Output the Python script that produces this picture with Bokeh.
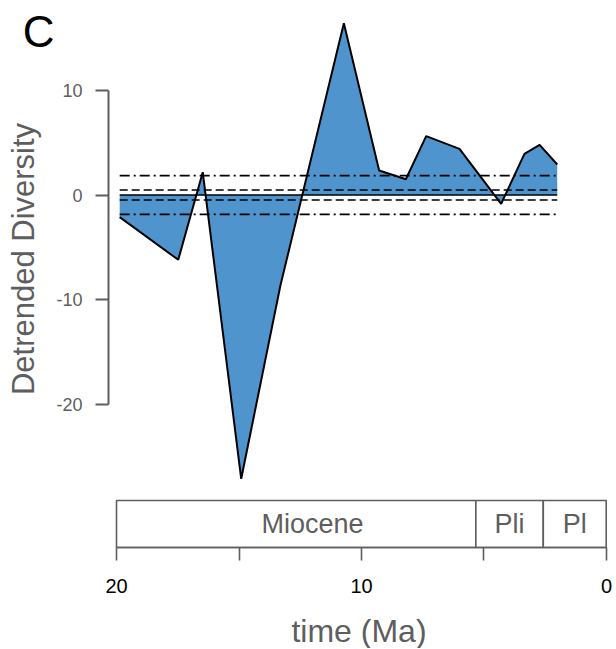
from bokeh.plotting import figure
from bokeh.models import Range1d, Label, FixedTicker, LinearAxis
from bokeh.core.properties import value
from bokeh.embed import file_html
from bokeh.resources import INLINE

# ---- data ----
ages = [19.87, 17.48, 16.48, 14.91, 13.31, 10.72, 9.28, 8.19, 7.36, 6.00, 4.30, 3.35, 2.73, 2.01]
diversity = [-2.12, -6.20, 2.18, -27.16, -8.66, 16.44, 2.34, 1.51, 5.63, 4.42, -0.84, 3.94, 4.80, 2.92]
zero_level = [0.0]
inner_band = [0.48, -0.48]
outer_band = [1.85, -1.85]

epoch_names = ["Miocene", "Pli", "Pl"]
epoch_start = [23.03, 5.333, 2.58]
epoch_end = [5.333, 2.58, 0.0117]

y_ticks = [10, 0, -10, -20]
y_tick_labels = ["10", "0", "-10", "-20"]
x_ticks = [20, 15, 10, 5, 0]
x_tick_labels = ["20", "", "10", "", "0"]

# ---- layout constants ----
XMAX = 20.0
FONT = "Liberation Sans"
GREY = "#5e5e5e"
FILL = "#4F94CD"
epoch_label_x = [12.0, 3.96, 1.30]

x_start, x_end = 24.735, -0.245
y_start, y_end = -43.397, 17.847
box_bottom = -33.732
box_top = -29.23
yaxis_at = 20.3265

p = figure(frame_width=612, frame_height=640,
           x_range=Range1d(x_start, x_end), y_range=Range1d(y_start, y_end),
           output_backend="svg", toolbar_location=None,
           x_axis_location=None, y_axis_location=None,
           min_border_left=0, min_border_right=0,
           min_border_top=8, min_border_bottom=0,
           background_fill_color="white", border_fill_color="white")
p.outline_line_color = None
p.xgrid.visible = False
p.ygrid.visible = False

# filled anomaly area
n = len(ages)
p.varea(x=ages, y1=[0.0] * n, y2=diversity, fill_color=FILL, fill_alpha=1.0)

# reference levels
for lvl in zero_level:
    p.line([ages[0], ages[-1]], [lvl, lvl], line_color="black", line_width=1.4)
for lvl in inner_band:
    p.line([ages[0], ages[-1]], [lvl, lvl], line_color="black", line_width=1.6,
           line_dash="8 4")
for lvl in outer_band:
    p.line([ages[0], ages[-1]], [lvl, lvl], line_color="black", line_width=1.6,
           line_dash="10 4 2 4")

# curve
p.line(ages, diversity, line_color="black", line_width=2)

# geologic timescale
p.quad(left=[min(s, XMAX) for s in epoch_start], right=epoch_end,
       bottom=box_bottom, top=box_top, fill_color="white",
       line_color=GREY, line_width=1.6)
p.text(x=epoch_label_x, y=[(box_bottom + box_top) / 2] * len(epoch_names),
       text=epoch_names, text_font=value(FONT), text_font_size="27px",
       text_color=GREY, text_align="center", text_baseline="middle")


def style_ticks(ax, label_size, label_color, standoff, tick_out, lw):
    ax.major_label_text_font = FONT
    ax.major_label_text_font_size = label_size
    ax.major_label_text_color = label_color
    ax.major_label_standoff = standoff
    ax.major_tick_out = tick_out
    ax.major_tick_in = 0
    ax.minor_tick_out = 0
    ax.minor_tick_in = 0
    ax.axis_line_color = GREY
    ax.axis_line_width = lw
    ax.major_tick_line_color = GREY
    ax.major_tick_line_width = lw


def title_axis(text, size, loc, bounds, standoff):
    ax = LinearAxis(ticker=FixedTicker(ticks=[]), fixed_location=loc, bounds=bounds)
    ax.axis_line_color = None
    ax.major_tick_out = 0
    ax.major_tick_in = 0
    ax.minor_tick_out = 0
    ax.minor_tick_in = 0
    ax.major_label_standoff = 0
    ax.axis_label = text
    ax.axis_label_text_font = FONT
    ax.axis_label_text_font_size = size
    ax.axis_label_text_font_style = "normal"
    ax.axis_label_text_color = GREY
    ax.axis_label_standoff = standoff
    return ax


# y axis (ticks and labels)
yaxis = LinearAxis(ticker=FixedTicker(ticks=y_ticks), bounds=(-20, 10),
                   fixed_location=yaxis_at,
                   major_label_overrides=dict(zip(y_ticks, y_tick_labels)))
style_ticks(yaxis, "18px", GREY, 13, 13, 2)
p.add_layout(yaxis, "left")
# y axis title, centred on the whole plotting region
p.add_layout(title_axis("Detrended Diversity", "31px", yaxis_at, (-22.24, 10), 68), "left")

# x axis (ticks and labels), along the bottom of the timescale
xaxis = LinearAxis(ticker=FixedTicker(ticks=x_ticks), bounds=(0, 20),
                   fixed_location=box_bottom,
                   major_label_overrides=dict(zip(x_ticks, x_tick_labels)))
style_ticks(xaxis, "20px", "black", 18, 13, 1.6)
p.add_layout(xaxis, "below")
# x axis title
p.add_layout(title_axis("time (Ma)", "32px", box_bottom, (0, 20.2), 65), "below")

# panel letter
p.add_layout(Label(x=23.18, y=15.65, text="C", text_font=FONT, text_font_size="44px",
                   text_color="black", text_align="center", text_baseline="middle"))

open("out.html", "w").write(file_html(p, INLINE))
